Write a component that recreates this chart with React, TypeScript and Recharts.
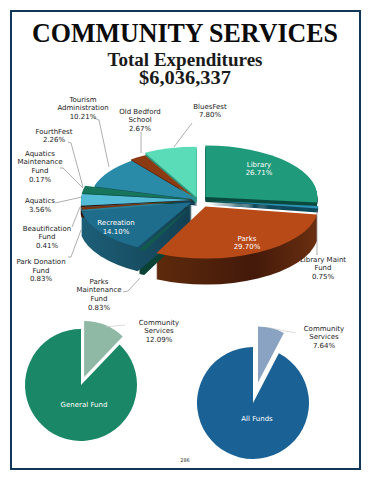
import { PieChart, Pie, Sector } from "recharts";

const funds = ["Library", "Library Maint Fund", "Parks", "Parks Maintenance Fund", "Recreation", "Park Donation Fund", "Beautification Fund", "Aquatics", "Aquatics Maintenance Fund", "FourthFest", "Tourism Administration", "Old Bedford School", "BluesFest"];
const shares = [26.71, 0.75, 29.7, 0.83, 14.1, 0.83, 0.41, 3.56, 0.17, 2.26, 10.21, 2.67, 7.8];
const topColors = ["#1f9a7a", "#2a8fb0", "#b84a17", "#125a4c", "#1f6d8c", "#7a3410", "#3a1406", "#55bcd8", "#127a5e", "#17755c", "#2a8ba8", "#8c3a12", "#5bdcb9"];
const sideColors = ["#0b4a3e", "#0e4a5c", "url(#parksSide)", "#0b4236", "url(#recSide)", "#3a1505", "#2a0e02", "#2a7f96", "#0a4a3a", "#0b4a3a", "#123f52", "#4f1f08", "#2f9a80"];
const explode = [10, 11, 16, 11, 8, 6, 6, 5, 5, 5, 1, 9, 6];
const reach = [112, 110, 113, 112, 112, 112, 112, 112, 112, 112, 107, 102, 110];
const depth = [5, 4, 26, 24, 24, 8, 8, 6, 6, 6, 6, 6, 6];

const generalNames = ["Community Services", "General Fund"];
const generalShares = [12.09, 87.91];
const allNames = ["Community Services", "All Funds"];
const allShares = [7.64, 92.36];

const mainData = funds.map((name, i) => ({ name, value: shares[i], fill: topColors[i], side: sideColors[i], explode: explode[i], reach: reach[i], depth: depth[i] }));
const generalData = generalNames.map((name, i) => ({ name, value: generalShares[i], fill: ["#8fb9a5", "#1a8766"][i], explode: [8.5, 0][i] }));
const allData = allNames.map((name, i) => ({ name, value: allShares[i], fill: ["#8aa3c2", "#1a6295"][i], explode: [21, 0][i] }));

const SQUASH = 0.46;
const RAD = Math.PI / 180;

// tilted slice: moved out along its middle angle, then flattened around the centre
function tilted(props: any, drop: number, fill: string, key?: number) {
  const { cx, cy, startAngle, endAngle, midAngle } = props;
  const dx = props.explode * Math.cos(midAngle * RAD);
  const dy = -props.explode * Math.sin(midAngle * RAD);
  return (
    <g key={key} transform={`translate(0 ${cy * (1 - SQUASH) + drop}) scale(1 ${SQUASH})`}>
      <Sector cx={cx + dx} cy={cy + dy} innerRadius={0} outerRadius={props.reach} startAngle={startAngle} endAngle={endAngle} fill={fill} stroke="none" />
    </g>
  );
}

function SideShape(props: any) {
  const layers = [];
  for (let d = props.depth; d >= 1; d--) layers.push(tilted(props, d, props.side, d));
  return <g>{layers}</g>;
}

function TopShape(props: any) {
  return tilted(props, 0, props.fill);
}

function FlatShape(props: any) {
  const { cx, cy, outerRadius, startAngle, endAngle, midAngle, fill } = props;
  return (
    <Sector
      cx={cx + props.explode * Math.cos(midAngle * RAD)}
      cy={cy - props.explode * Math.sin(midAngle * RAD)}
      innerRadius={0}
      outerRadius={outerRadius}
      startAngle={startAngle}
      endAngle={endAngle}
      fill={fill}
      stroke="none"
    />
  );
}

const darkLabels: [number, number, string[]][] = [
  [83, 99, ["Tourism", "Administration", "10.21%"]],
  [140, 111, ["Old Bedford", "School", "2.67%"]],
  [210, 106, ["BluesFest", "7.80%"]],
  [54, 131, ["FourthFest", "2.26%"]],
  [40, 153, ["Aquatics", "Maintenance", "Fund", "0.17%"]],
  [40, 200.5, ["Aquatics", "3.56%"]],
  [47, 228, ["Beautification", "Fund", "0.41%"]],
  [41, 261.5, ["Park Donation", "Fund", "0.83%"]],
  [99, 281, ["Parks", "Maintenance", "Fund", "0.83%"]],
  [323, 259, ["Library Maint", "Fund", "0.75%"]],
  [159, 322, ["Community", "Services", "12.09%"]],
  [324, 328, ["Community", "Services", "7.64%"]],
];
const whiteLabels: [number, number, string[]][] = [
  [259, 164, ["Library", "26.71%"]],
  [247, 238, ["Parks", "29.70%"]],
  [116, 222.5, ["Recreation", "14.10%"]],
  [84, 404, ["General Fund"]],
  [257, 418, ["All Funds"]],
];
const leaders = [
  "192,123 174,147",
  "141,132 141,153",
  "94,118 99,120 109,167",
  "68,142 71,143 83,187",
  "60,168 63,168 83,188",
  "55,203 82,197",
  "72,227 80,207",
  "68,257 71,257 81,230",
  "123,292 128,291 140,278",
  "317,210 317,255",
];
const softLeaders = ["105,327 125,325", "270,328 296,333"];

function Labels({ items, color }: { items: [number, number, string[]][]; color: string }) {
  return (
    <>
      {items.map(([x, y, lines]) =>
        lines.map((line, i) => (
          <text key={line + y + i} x={x} y={y + i * 8.7 + 2.5} textAnchor="middle" fontSize={7} fontFamily="'DejaVu Sans', sans-serif" fill={color}>
            {line}
          </text>
        ))
      )}
    </>
  );
}

export default function App() {
  const serif = "'Liberation Serif', serif";
  return (
    <div style={{ position: "absolute", left: 0, top: 0, width: 370, height: 480, background: "#fff" }}>
      <PieChart width={370} height={480} margin={{ top: 0, right: 0, bottom: 0, left: 0 }} style={{ position: "absolute", left: 0, top: 0 }}>
        <defs>
          <linearGradient id="parksSide" x1="0" y1="0" x2="1" y2="0">
            <stop offset="0%" stopColor="#5e2a0c" />
            <stop offset="60%" stopColor="#43190a" />
            <stop offset="100%" stopColor="#6a2f10" />
          </linearGradient>
          <linearGradient id="recSide" x1="0" y1="0" x2="1" y2="0">
            <stop offset="0%" stopColor="#1d5f78" />
            <stop offset="100%" stopColor="#123f52" />
          </linearGradient>
        </defs>
        <Pie data={mainData} dataKey="value" nameKey="name" cx={198} cy={200} outerRadius={112} startAngle={90} endAngle={-270} stroke="none" shape={SideShape} isAnimationActive={false} label={false} labelLine={false} />
        <Pie data={mainData} dataKey="value" nameKey="name" cx={198} cy={200} outerRadius={112} startAngle={90} endAngle={-270} stroke="none" shape={TopShape} isAnimationActive={false} label={false} labelLine={false} />
        <Pie data={generalData} dataKey="value" nameKey="name" cx={81} cy={385} outerRadius={56} startAngle={90} endAngle={-270} stroke="none" shape={FlatShape} isAnimationActive={false} label={false} labelLine={false} />
        <Pie data={allData} dataKey="value" nameKey="name" cx={253} cy={403} outerRadius={56} startAngle={90} endAngle={-270} stroke="none" shape={FlatShape} isAnimationActive={false} label={false} labelLine={false} />
      </PieChart>
      <svg width={370} height={480} style={{ position: "absolute", left: 0, top: 0 }}>
        <rect x={11} y={11} width={349} height={458} fill="none" stroke="#12375a" strokeWidth={2} />
        <text x={185} y={42} textAnchor="middle" fontSize={28} fontWeight="bold" fontFamily={serif} fill="#0b0b0b" textLength={306} lengthAdjust="spacingAndGlyphs">COMMUNITY SERVICES</text>
        <text x={185} y={65.5} textAnchor="middle" fontSize={18} fontWeight="bold" fontFamily={serif} fill="#1a1a1a" textLength={155} lengthAdjust="spacingAndGlyphs">Total Expenditures</text>
        <text x={185} y={84} textAnchor="middle" fontSize={18} fontWeight="bold" fontFamily={serif} fill="#1a1a1a" textLength={92} lengthAdjust="spacingAndGlyphs">$6,036,337</text>
        {leaders.map((p) => <polyline key={p} points={p} fill="none" stroke="#777" strokeWidth={0.6} />)}
        {softLeaders.map((p) => <polyline key={p} points={p} fill="none" stroke="#c4c4c4" strokeWidth={0.6} />)}
        <Labels items={darkLabels} color="#222" />
        <Labels items={whiteLabels} color="#fff" />
        <text x={185} y={462} textAnchor="middle" fontSize={5} fontFamily="'DejaVu Sans', sans-serif" fill="#333">286</text>
      </svg>
    </div>
  );
}
